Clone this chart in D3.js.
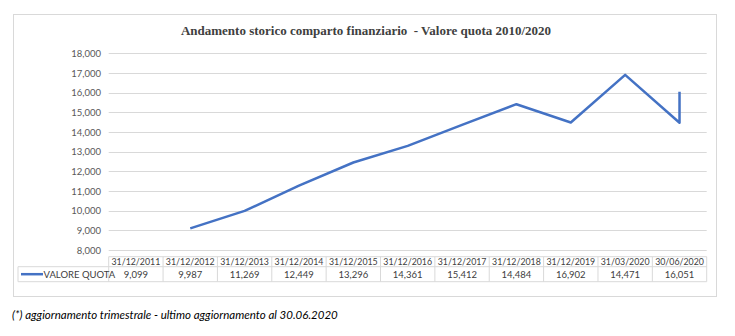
<!DOCTYPE html>
<html><head><meta charset="utf-8">
<script src="https://cdn.jsdelivr.net/npm/d3@7/dist/d3.min.js"></script>
<style>body{margin:0;background:#fff;}svg{display:block;}</style>
</head><body>
<script>
const categories = ["31/12/2011","31/12/2012","31/12/2013","31/12/2014","31/12/2015","31/12/2016","31/12/2017","31/12/2018","31/12/2019","31/03/2020","30/06/2020"];
const values = [9099, 9987, 11269, 12449, 13296, 14361, 15412, 14484, 16902, 14471, 16051];
const yTicks = [8000, 9000, 10000, 11000, 12000, 13000, 14000, 15000, 16000, 17000, 18000];
const seriesName = "VALORE QUOTA";
const title = "Andamento storico comparto finanziario\u00a0 - Valore quota 2010/2020";
const footnote = "(*) aggiornamento trimestrale - ultimo aggiornamento al 30.06.2020";

const W = 735, H = 336;
const svg = d3.select("body").append("svg").attr("width", W).attr("height", H);
const font = "Lato, 'Open Sans', sans-serif";

// chart frame
svg.append("rect").attr("x", 13.5).attr("y", 14.5).attr("width", 703).attr("height", 282)
  .attr("fill", "#fff").attr("stroke", "#d9d9d9").attr("stroke-width", 1);

svg.append("text").attr("x", 366).attr("y", 35).attr("text-anchor", "middle")
  .attr("font-family", "'Liberation Serif', 'Times New Roman', serif").attr("font-weight", "bold")
  .attr("font-size", 13).attr("fill", "#404040").text(title);

const x = d3.scaleBand().domain(categories).range([108.7, 706.7]).padding(0);
const y = d3.scaleLinear().domain([8000, 18000]).range([250, 53.3]);

// gridlines
svg.append("g").selectAll("line").data(yTicks).join("line")
  .attr("x1", 108.7).attr("x2", 706.7)
  .attr("y1", d => Math.round(y(d)) + 0.5).attr("y2", d => Math.round(y(d)) + 0.5)
  .attr("stroke", "#d9d9d9").attr("stroke-width", 1);

// y axis labels
const yAxis = d3.axisLeft(y).tickValues(yTicks).tickSize(0).tickPadding(0).tickFormat(d3.format(","));
const ga = svg.append("g").attr("transform", "translate(101,0)").call(yAxis);
ga.select(".domain").remove();
ga.selectAll("text").attr("font-family", font).attr("font-size", 9.5).attr("fill", "#595959");

// line (as plotted in the source: each value drawn one category to the right, last two share the final category)
const n = categories.length;
const plotX = (d, i) => x(categories[Math.min(i + 1, n - 1)]) + x.bandwidth() / 2;
const line = d3.line().x((d, i) => plotX(d, i)).y(d => y(d));
svg.append("path").datum(values).attr("d", line)
  .attr("fill", "none").attr("stroke", "#4472C4").attr("stroke-width", 2.5)
  .attr("stroke-linejoin", "round").attr("stroke-linecap", "butt");

// data table
const r1 = 256.7, r2 = 266.7, r3 = 281.7;
const tg = svg.append("g");
const bc = "#d9d9d9";
tg.append("line").attr("x1", 108.7).attr("x2", 706.7).attr("y1", r1).attr("y2", r1).attr("stroke", bc);
tg.append("line").attr("x1", 18).attr("x2", 706.7).attr("y1", r2).attr("y2", r2).attr("stroke", bc);
tg.append("line").attr("x1", 18).attr("x2", 706.7).attr("y1", r3).attr("y2", r3).attr("stroke", bc);
const edges = categories.map(c => x(c)).concat([x(categories[n - 1]) + x.bandwidth()]);
tg.selectAll("line.v").data(edges).join("line").attr("class", "v")
  .attr("x1", d => d).attr("x2", d => d).attr("y1", r1).attr("y2", r3).attr("stroke", bc);
tg.append("line").attr("x1", 18).attr("x2", 18).attr("y1", r2).attr("y2", r3).attr("stroke", bc);

tg.selectAll("text.cat").data(categories).join("text").attr("class", "cat")
  .attr("x", d => x(d) + x.bandwidth() / 2).attr("y", (r1 + r2) / 2 + 3.3)
  .attr("text-anchor", "middle").attr("font-family", font).attr("font-size", 8.8)
  .attr("fill", "#404040").text(d => d);
tg.selectAll("text.val").data(values).join("text").attr("class", "val")
  .attr("x", (d, i) => x(categories[i]) + x.bandwidth() / 2).attr("y", (r2 + r3) / 2 + 3.5)
  .attr("text-anchor", "middle").attr("font-family", font).attr("font-size", 9.5)
  .attr("fill", "#404040").text(d => d3.format(",")(d));

// legend key
tg.append("line").attr("x1", 21).attr("x2", 43).attr("y1", (r2 + r3) / 2).attr("y2", (r2 + r3) / 2)
  .attr("stroke", "#4472C4").attr("stroke-width", 2.5);
tg.append("text").attr("x", 43.5).attr("y", (r2 + r3) / 2 + 3.5).attr("font-family", font)
  .attr("font-size", 9.5).attr("fill", "#404040").text(seriesName);

svg.append("text").attr("x", 12).attr("y", 319).attr("font-family", font).attr("font-style", "italic")
  .attr("font-size", 11.5).attr("fill", "#000").text(footnote);
</script>
</body></html>
